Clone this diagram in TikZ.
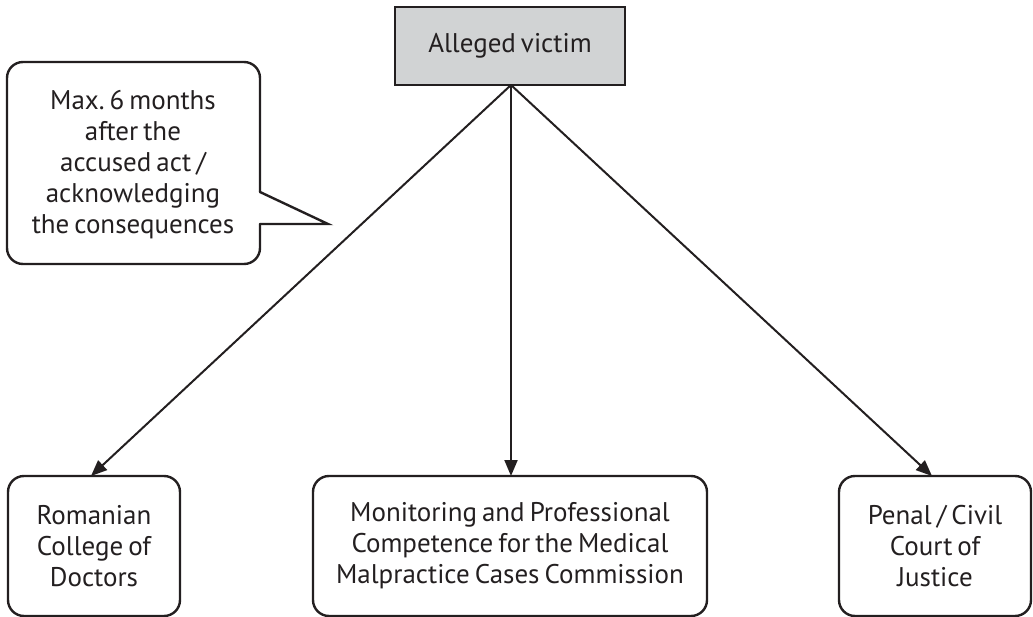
\documentclass[tikz,border=0pt]{standalone}
\usepackage{fontspec}
\setmainfont[WordSpace=0.7]{PT Sans}
\usetikzlibrary{arrows.meta}
\definecolor{ink}{RGB}{35,31,32}
\definecolor{boxgray}{RGB}{209,211,212}
\begin{document}
\frenchspacing
\begin{tikzpicture}[x=1pt,y=-1pt,
  every node/.style={text=ink, font=\fontsize{27}{31}\selectfont\frenchspacing, align=center, inner sep=0pt},
  topbox/.style={draw=ink, line width=2.4pt, fill=boxgray, minimum width=230pt, minimum height=78pt},
  endbox/.style={draw=ink, line width=2.4pt, rounded corners=16pt, minimum height=140pt},
  flow/.style={draw=ink, line width=2pt, -{Triangle[length=16pt,width=13pt]}},
  outline/.style={draw=ink, line width=2.4pt, line cap=round, line join=round}]
\useasboundingbox (0,0) rectangle (1033,617);

\node[topbox] (victim) at (510,46) {Alleged victim};

\node[endbox, minimum width=172pt] (college) at (94,546) {Romanian\\College of\\Doctors};
\node[endbox, minimum width=394pt] (commission) at (510,546) {Monitoring and Professional\\Competence for the Medical\\Malpractice Cases Commission};
\node[endbox, minimum width=192pt] (court) at (935,546) {Penal / Civil\\Court of\\Justice};

\coordinate (v) at (511,85);
\coordinate (ta) at (91,476);
\coordinate (tb) at (511,476);
\coordinate (tc) at (932,476);
\draw[flow] (v) -- (ta);
\draw[flow] (v) -- (tb);
\draw[flow] (v) -- (tc);

% callout
\coordinate (pa) at (260,192);
\coordinate (pb) at (260,224);
\coordinate (tip) at (328,224);
\draw[outline, rounded corners=16pt] (pa) -- (260,62) -- (7,62) -- (7,264) -- (260,264) -- (pb);
\draw[outline, line join=miter] (pa) -- (tip) -- (pb);
\node (note) at (133,165) {Max.\ 6 months\\after the\\accused act /\\acknowledging\\the consequences};
\end{tikzpicture}
\end{document}
